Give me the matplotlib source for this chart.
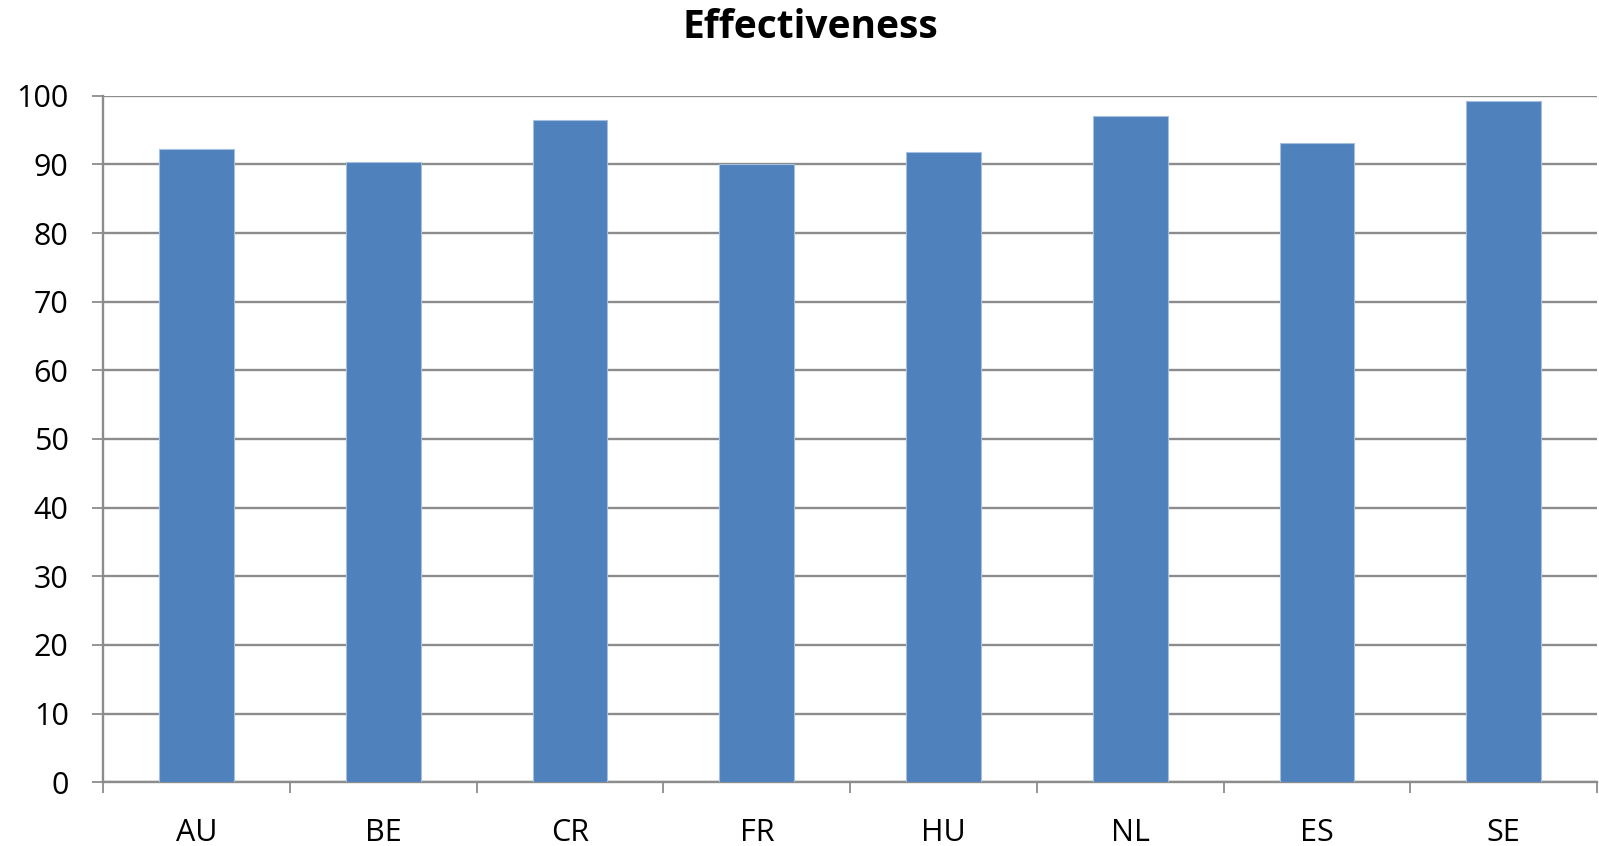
import numpy as np
import matplotlib.pyplot as plt

# Effectiveness per country (%)
countries = ["AU", "BE", "CR", "FR", "HU", "NL", "ES", "SE"]
effectiveness = [92.2, 90.3, 96.4, 90.0, 91.8, 97.0, 93.1, 99.2]

plt.rcParams['font.family'] = ['Open Sans', 'DejaVu Sans']

fig = plt.figure(figsize=(15.99, 8.46), dpi=100)
ax = fig.add_axes([0.0646, 0.0753, 0.9341, 0.8116])

x = np.arange(len(countries))
ax.bar(x, effectiveness, width=0.4, color='#4F81BD', edgecolor='#A7BFDE',
       linewidth=0.8, zorder=3)

ax.set_xlim(-0.5, len(countries) - 0.5)
ax.set_ylim(0, 100)
ax.set_yticks(range(0, 101, 10))
ax.yaxis.grid(True, color='#8C8C8C', linewidth=1.7, zorder=0)

# category labels centred, tick marks on the boundaries
ax.set_xticks(x)
ax.set_xticklabels(countries)
ax.set_xticks(np.arange(-0.5, len(countries)), minor=True)
ax.tick_params(axis='x', which='major', length=0, pad=26, labelsize=22)
ax.tick_params(axis='x', which='minor', length=8, width=1.3, color='#8C8C8C')
ax.tick_params(axis='y', length=8, width=1.3, color='#8C8C8C', pad=17,
               labelsize=22)

for side in ['top', 'right']:
    ax.spines[side].set_visible(False)
for side in ['left', 'bottom']:
    ax.spines[side].set_color('#8C8C8C')
    ax.spines[side].set_linewidth(1.7)

fig.text(0.507, 0.967, "Effectiveness", ha='center', va='center',
         fontsize=28, fontweight='bold')

fig.savefig('out.png', dpi=100)
